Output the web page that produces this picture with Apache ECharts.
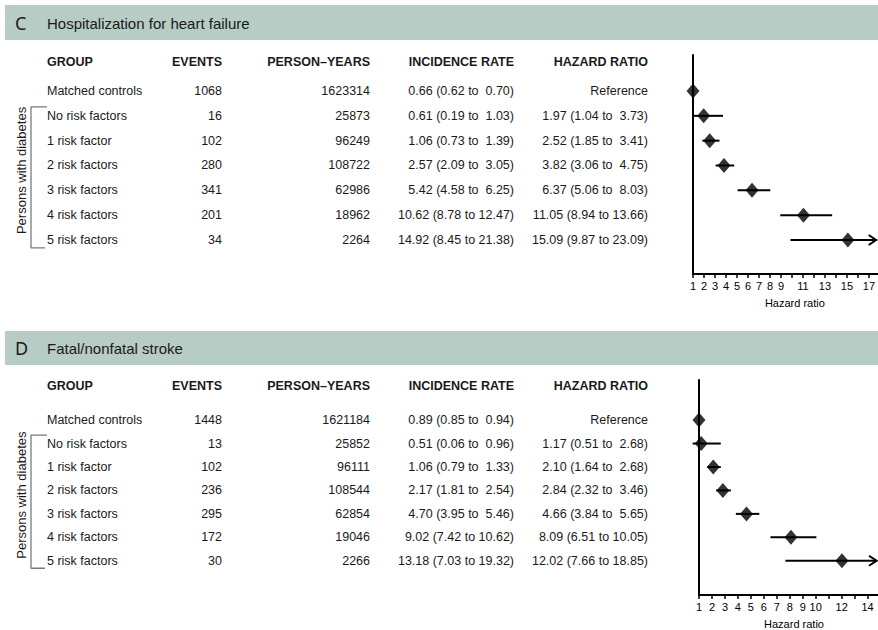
<!DOCTYPE html>
<html><head><meta charset="utf-8">
<script src="https://cdn.jsdelivr.net/npm/echarts@6/dist/echarts.min.js"></script>
<style>html,body{margin:0;padding:0;background:#fff}#c{width:878px;height:630px}</style>
</head><body><div id="c"></div>
<script>
// ---------------- DATA ----------------
const groups = ['Matched controls','No risk factors','1 risk factor','2 risk factors','3 risk factors','4 risk factors','5 risk factors'];
const columnHeaders = ['GROUP','EVENTS','PERSON\u2013YEARS','INCIDENCE RATE','HAZARD RATIO'];
const sideLabel = 'Persons with diabetes';
const panelLetters = ['C','D'];
const panelTitles = ['Hospitalization for heart failure','Fatal/nonfatal stroke'];
const axisName = 'Hazard ratio';

// Panel C
const eventsC = [1068,16,102,280,341,201,34];
const personYearsC = [1623314,25873,96249,108722,62986,18962,2264];
const irC   = [0.66,0.61,1.06,2.57,5.42,10.62,14.92];
const irLoC = [0.62,0.19,0.73,2.09,4.58,8.78,8.45];
const irHiC = [0.70,1.03,1.39,3.05,6.25,12.47,21.38];
const hrC   = [1,1.97,2.52,3.82,6.37,11.05,15.09];
const hrLoC = [null,1.04,1.85,3.06,5.06,8.94,9.87];
const hrHiC = [null,3.73,3.41,4.75,8.03,13.66,23.09];
const tickValuesC = [1,2,3,4,5,6,7,8,9,10,11,12,13,14,15,16,17];
const tickLabelsC = [1,2,3,4,5,6,7,8,9,11,13,15,17];

// Panel D
const eventsD = [1448,13,102,236,295,172,30];
const personYearsD = [1621184,25852,96111,108544,62854,19046,2266];
const irD   = [0.89,0.51,1.06,2.17,4.70,9.02,13.18];
const irLoD = [0.85,0.06,0.79,1.81,3.95,7.42,7.03];
const irHiD = [0.94,0.96,1.33,2.54,5.46,10.62,19.32];
const hrD   = [1,1.17,2.10,2.84,4.66,8.09,12.02];
const hrLoD = [null,0.51,1.64,2.32,3.84,6.51,7.66];
const hrHiD = [null,2.68,2.68,3.46,5.65,10.05,18.85];
const tickValuesD = [1,2,3,4,5,6,7,8,9,10,11,12,13,14];
const tickLabelsD = [1,2,3,4,5,6,7,8,9,10,12,14];
const referenceText = 'Reference';

// ---------------- LAYOUT / STYLE ----------------
const FONT = '"Liberation Sans", Arial, Helvetica, sans-serif';
const TXT = '#1a1a1a';
const layouts = [
  {barY:5, barH:35, titleY:23, top:55, height:219, yMin:-1.45, yMax:7.37, headerRow:-1.17, plotLeft:693, xMax:17.8, nameShift:19,
   events:eventsC, py:personYearsC, ir:irC, irLo:irLoC, irHi:irHiC, hr:hrC, hrLo:hrLoC, hrHi:hrHiC, ticks:tickValuesC, labels:tickLabelsC},
  {barY:331, barH:34, titleY:348, top:380, height:215, yMin:-1.71, yMax:7.46, headerRow:-1.46, plotLeft:699, xMax:14.8, nameShift:11,
   events:eventsD, py:personYearsD, ir:irD, irLo:irLoD, irHi:irHiD, hr:hrD, hrLo:hrLoD, hrHi:hrHiD, ticks:tickValuesD, labels:tickLabelsD}
];
const colX = [47, 222, 370, 514, 648];
const colAlign = ['left','right','right','right','right'];

function fmtCI(v, lo, hi) {
  const gap = hi < 10 ? ' \u00a0' : ' ';
  return v.toFixed(2) + ' (' + lo.toFixed(2) + ' to' + gap + hi.toFixed(2) + ')';
}

const grids = [], xAxes = [], yAxes = [], series = [], graphics = [];

layouts.forEach((L, p) => {
  // header bar
  graphics.push({type:'rect', shape:{x:5, y:L.barY, width:873, height:L.barH}, style:{fill:'#b6ccc4'}, z:-1});
  graphics.push({type:'text', x:15, y:L.titleY, style:{text:panelLetters[p], font:'18px "Noto Sans", "Open Sans", sans-serif', fill:TXT, verticalAlign:'middle'}});
  graphics.push({type:'text', x:47, y:L.titleY, style:{text:panelTitles[p], font:'15px '+FONT, fill:TXT, verticalAlign:'middle'}});

  // table grid
  const tg = grids.length;
  grids.push({left:0, width:878, top:L.top, height:L.height});
  xAxes.push({gridIndex:tg, type:'value', min:0, max:878, show:false});
  yAxes.push({gridIndex:tg, type:'value', min:L.yMin, max:L.yMax, inverse:true, show:false});

  const items = [];
  columnHeaders.forEach((h, c) => items.push({x:colX[c], row:L.headerRow, text:h, align:colAlign[c], bold:true}));
  groups.forEach((g, r) => {
    items.push({x:colX[0], row:r, text:g, align:'left'});
    items.push({x:colX[1], row:r, text:String(L.events[r]), align:'right'});
    items.push({x:colX[2], row:r, text:String(L.py[r]), align:'right'});
    items.push({x:colX[3], row:r, text:fmtCI(L.ir[r], L.irLo[r], L.irHi[r]), align:'right'});
    items.push({x:colX[4], row:r, text: L.hrLo[r] == null ? referenceText : fmtCI(L.hr[r], L.hrLo[r], L.hrHi[r]), align:'right'});
  });
  items.push({x:21, row:3.2, text:sideLabel, align:'center', rot:Math.PI/2, size:13});

  series.push({
    type:'custom', xAxisIndex:tg, yAxisIndex:tg, silent:true,
    data: items.map(it => [it.x, it.row]),
    renderItem: (params, api) => {
      const it = items[params.dataIndex];
      const pt = api.coord([api.value(0), api.value(1)]);
      return {type:'text', x:pt[0], y:pt[1], rotation:it.rot || 0,
        style:{text:it.text, align:it.align, verticalAlign:'middle', fill:TXT,
          font:(it.bold ? 'bold ' : '') + (it.size || 12.5) + 'px ' + FONT}};
    }
  });
  // bracket for diabetes rows
  series.push({type:'line', xAxisIndex:tg, yAxisIndex:tg, silent:true, symbol:'none',
    data:[[47, 0.64],[31, 0.64],[31, groups.length - 1 + 0.32],[45, groups.length - 1 + 0.32]],
    lineStyle:{color:'#7a7a7a', width:1.3}});

  // forest grid
  const fg = grids.length;
  grids.push({left:L.plotLeft, right:0, top:L.top, height:L.height});
  xAxes.push({gridIndex:fg, type:'value', min:1, max:L.xMax, interval:1,
    axisLine:{show:true, onZero:false, lineStyle:{color:'#000', width:2}},
    axisTick:{show:true, length:4, customValues:L.ticks, lineStyle:{color:'#000', width:1.5}},
    axisLabel:{customValues:L.labels, color:'#000', fontSize:11, fontFamily:FONT, margin:6},
    splitLine:{show:false},
    name:axisName, nameLocation:'middle', nameGap:23,
    nameTextStyle:{color:'#000', fontSize:11, fontFamily:FONT, padding:[0,0,0,L.nameShift]}});
  yAxes.push({gridIndex:fg, type:'value', min:L.yMin, max:L.yMax, inverse:true,
    axisLine:{show:true, onZero:false, lineStyle:{color:'#000', width:2}},
    axisTick:{show:false}, axisLabel:{show:false}, splitLine:{show:false}});

  const ciData = [];
  L.hr.forEach((v, r) => { if (L.hrLo[r] != null) ciData.push([L.hrLo[r], L.hrHi[r], r]); });
  const xMax = L.xMax;
  series.push({
    type:'custom', xAxisIndex:fg, yAxisIndex:fg, silent:true, clip:false,
    encode:{x:[0,1], y:2},
    data: ciData,
    renderItem: (params, api) => {
      const lo = api.value(0), hi = api.value(1), row = api.value(2);
      const a = api.coord([lo, row]);
      const b = api.coord([Math.min(hi, xMax), row]);
      const children = [{type:'line', shape:{x1:a[0], y1:a[1], x2:b[0]-(hi > xMax ? 1 : 0), y2:b[1]}, style:{stroke:'#000', lineWidth:2}}];
      if (hi > xMax) {
        children.push({type:'polyline', shape:{points:[[b[0]-9, b[1]-5],[b[0]-1.5, b[1]],[b[0]-9, b[1]+5]]},
          style:{stroke:'#000', fill:null, lineWidth:2}});
      }
      return {type:'group', children};
    }
  });
  series.push({type:'scatter', xAxisIndex:fg, yAxisIndex:fg, silent:true, clip:false, z:5,
    symbol:'diamond', symbolSize:[13,15], itemStyle:{color:'#000'},
    data: L.hr.map((v, r) => [v, r])});
});

const chart = echarts.init(document.getElementById('c'), null, {renderer:'svg'});
chart.setOption({
  animation:false,
  backgroundColor:'#fff',
  grid:grids, xAxis:xAxes, yAxis:yAxes, series:series, graphic:graphics
});
</script>
</body></html>
